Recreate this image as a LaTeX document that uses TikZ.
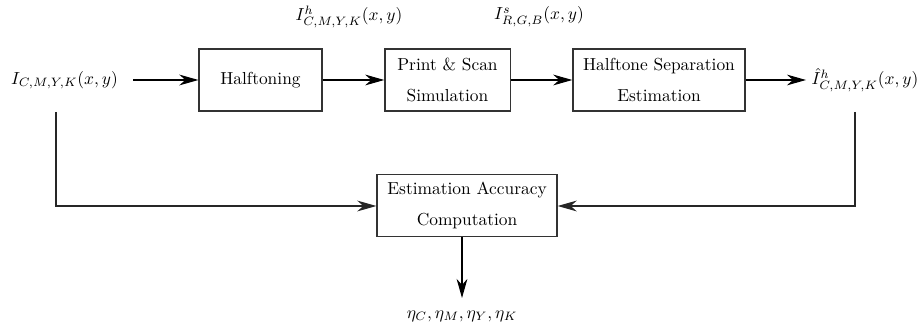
\documentclass[tikz,border=0pt]{standalone}
\usetikzlibrary{arrows.meta}
\begin{document}
\begin{tikzpicture}[x=0.575pt,y=-0.575pt,
  blk/.style={draw=black!80,line width=0.7pt,minimum height=35.7pt,align=center,inner sep=2pt},
  lbl/.style={inner sep=0pt},
  arr/.style={line width=0.6pt,-{Stealth[length=11pt,width=6.2pt,inset=3.5pt]}},
  ln/.style={line width=0.6pt,draw=black!85}]
\useasboundingbox (0,0) rectangle (921,328);
\node[blk,minimum width=70.7pt] (ht) at (260.5,80) {Halftoning};
\node[blk,minimum width=72pt] (ps) at (447.5,80) {Print \& Scan\\[6pt]Simulation};
\node[blk,minimum width=99pt] (hs) at (659,80) {Halftone Separation\\[6pt]Estimation};
\node[blk,minimum width=103.5pt] (ea) at (467,205.5) {Estimation Accuracy\\[6pt]Computation};
\node[lbl] (in) at (64.5,80) {$I_{C,M,Y,K}(x,y)$};
\node[lbl] (out) at (865,80) {$\hat{I}^h_{C,M,Y,K}(x,y)$};
\node[lbl] (lh) at (349,17) {$I^h_{C,M,Y,K}(x,y)$};
\node[lbl] (ls) at (539,17) {$I^s_{R,G,B}(x,y)$};
\node[lbl] (eta) at (462,316) {$\eta_C,\eta_M,\eta_Y,\eta_K$};
\coordinate (ina) at (133,80);
\coordinate (outa) at (806,80);
\coordinate (lt) at (56,112);
\coordinate (lb) at (56,206);
\coordinate (rt) at (855,112);
\coordinate (rb) at (855,206);
\coordinate (etat) at (462,298);
\draw[arr] (ina) -- (ht.west);
\draw[arr] (ht.east) -- (ps.west);
\draw[arr] (ps.east) -- (hs.west);
\draw[arr] (hs.east) -- (outa);
\draw[ln,arr] (lt) -- (lb) -- (ea.west |- lb);
\draw[ln,arr] (rt) -- (rb) -- (ea.east |- rb);
\draw[arr] (ea.south -| etat) -- (etat);
\end{tikzpicture}
\end{document}
